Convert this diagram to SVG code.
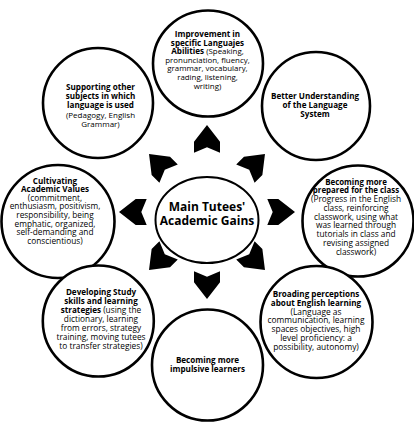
<svg xmlns="http://www.w3.org/2000/svg" xmlns:xlink="http://www.w3.org/1999/xlink" width="414" height="429" viewBox="0 0 414 429">
<style>
.node{fill:#fff;stroke:#000;stroke-width:2.6}
.core{fill:#fff;stroke:#000;stroke-width:2}
text{font-family:"Open Sans","Noto Sans","DejaVu Sans",sans-serif;fill:#000;text-anchor:middle}
.b{font-weight:bold;font-size:8.1px}
#n-prepared .b{font-size:7.9px}
.title{font-weight:bold;font-size:12px}
.arrow{fill:#000}
</style>
<defs>
<path id="arr" d="M0,-14 L13,2.7 L13,13.7 L0,8.3 L-13,13.7 L-13,2.7 Z"/>
</defs>
<rect width="414" height="429" fill="#fff"/>

<g id="n-top" font-size="7.9">
<ellipse class="node" cx="208" cy="63.5" rx="55" ry="53"/>
<text x="207.5" y="37"><tspan class="b">Improvement in</tspan></text>
<text x="207.5" y="45.6"><tspan class="b">specific Languajes</tspan></text>
<text x="207.5" y="54.2"><tspan class="b">Abilities</tspan> (Speaking,</text>
<text x="207.5" y="62.8">pronunciation, fluency,</text>
<text x="207.5" y="71.4">grammar, vocabulary,</text>
<text x="207.5" y="80">rading, listening,</text>
<text x="207.5" y="88.6">writing)</text>
</g>

<g id="n-supporting" font-size="8">
<circle class="node" cx="98" cy="103" r="55"/>
<text x="100.5" y="90"><tspan class="b">Supporting other</tspan></text>
<text x="100.5" y="99.2"><tspan class="b">subjects in which</tspan></text>
<text x="100.5" y="108.4"><tspan class="b">language is used</tspan></text>
<text x="100.5" y="117.6">(Pedagogy, English</text>
<text x="100.5" y="126.8">Grammar)</text>
</g>

<g id="n-better" font-size="8.2">
<circle class="node" cx="316" cy="106" r="54"/>
<text x="315" y="98.8"><tspan class="b">Better Understanding</tspan></text>
<text x="315" y="108.1"><tspan class="b">of the Language</tspan></text>
<text x="315" y="117.4"><tspan class="b">System</tspan></text>
</g>

<g id="n-cultivating" font-size="8.3">
<circle class="node" cx="58" cy="221.5" r="56.5"/>
<text x="55" y="183.5"><tspan class="b">Cultivating</tspan></text>
<text x="55" y="192.1"><tspan class="b">Academic Values</tspan></text>
<text x="55" y="200.7">(commitment,</text>
<text x="55" y="209.3">enthusiasm, positivism,</text>
<text x="55" y="217.9">responsibility, being</text>
<text x="55" y="226.5">emphatic, organized,</text>
<text x="55" y="235.1">self-demanding and</text>
<text x="55" y="243.7">conscientious)</text>
</g>

<g id="n-prepared" font-size="8.3">
<circle class="node" cx="358" cy="221" r="55.5"/>
<text x="356" y="184.5"><tspan class="b">Becoming more</tspan></text>
<text x="356" y="193.25"><tspan class="b">prepared for the class</tspan></text>
<text x="356" y="202">(Progress in the English</text>
<text x="356" y="210.75">class, reinforcing</text>
<text x="356" y="219.5">classwork, using what</text>
<text x="356" y="228.25">was learned through</text>
<text x="356" y="237">tutorials in class and</text>
<text x="356" y="245.75">revising assigned</text>
<text x="356" y="254.5">classwork)</text>
</g>

<g id="n-developing" font-size="8.3">
<circle class="node" cx="98.3" cy="321" r="55.5"/>
<text x="101" y="295.1"><tspan class="b">Developing Study</tspan></text>
<text x="101" y="304"><tspan class="b">skills and learning</tspan></text>
<text x="101" y="313"><tspan class="b">strategies</tspan> (using the</text>
<text x="101" y="322">dictionary, learning</text>
<text x="101" y="330.9">from errors, strategy</text>
<text x="101" y="339.8">training, moving tutees</text>
<text x="101" y="348.8">to transfer strategies)</text>
</g>

<g id="n-broading" font-size="8.4">
<circle class="node" cx="316.5" cy="322" r="56"/>
<text x="316" y="296.8"><tspan class="b">Broading perceptions</tspan></text>
<text x="316" y="305.7"><tspan class="b">about English learning</tspan></text>
<text x="316" y="314.6">(Language as</text>
<text x="316" y="323.4">communication, learning</text>
<text x="316" y="332.3">spaces objectives, high</text>
<text x="316" y="341.2">level proficiency: a</text>
<text x="316" y="350.1">possibility, autonomy)</text>
</g>

<g id="n-impulsive" font-size="8.2">
<circle class="node" cx="207.5" cy="365" r="55.5"/>
<text x="207.5" y="362.8"><tspan class="b">Becoming more</tspan></text>
<text x="207.5" y="372"><tspan class="b">impulsive learners</tspan></text>
</g>

<g id="connectors">
<use xlink:href="#arr" href="#arr" class="arrow" transform="translate(207,212) rotate(0) translate(0,-73)"/>
<use xlink:href="#arr" href="#arr" class="arrow" transform="translate(207,212) rotate(45) translate(0,-68)"/>
<use xlink:href="#arr" href="#arr" class="arrow" transform="translate(207,212) rotate(90) translate(0,-74)"/>
<use xlink:href="#arr" href="#arr" class="arrow" transform="translate(207,212) rotate(135) translate(0,-68)"/>
<use xlink:href="#arr" href="#arr" class="arrow" transform="translate(207,212) rotate(180) translate(0,-73)"/>
<use xlink:href="#arr" href="#arr" class="arrow" transform="translate(207,212) rotate(225) translate(0,-68)"/>
<use xlink:href="#arr" href="#arr" class="arrow" transform="translate(207,212) rotate(270) translate(0,-74)"/>
<use xlink:href="#arr" href="#arr" class="arrow" transform="translate(207,212) rotate(315) translate(0,-68)"/>
</g>

<g id="n-center">
<ellipse class="core" cx="207" cy="220" rx="51.5" ry="43"/>
<text x="207" y="211" class="title">Main Tutees'</text>
<text x="207" y="225" class="title">Academic Gains</text>
</g>
</svg>
